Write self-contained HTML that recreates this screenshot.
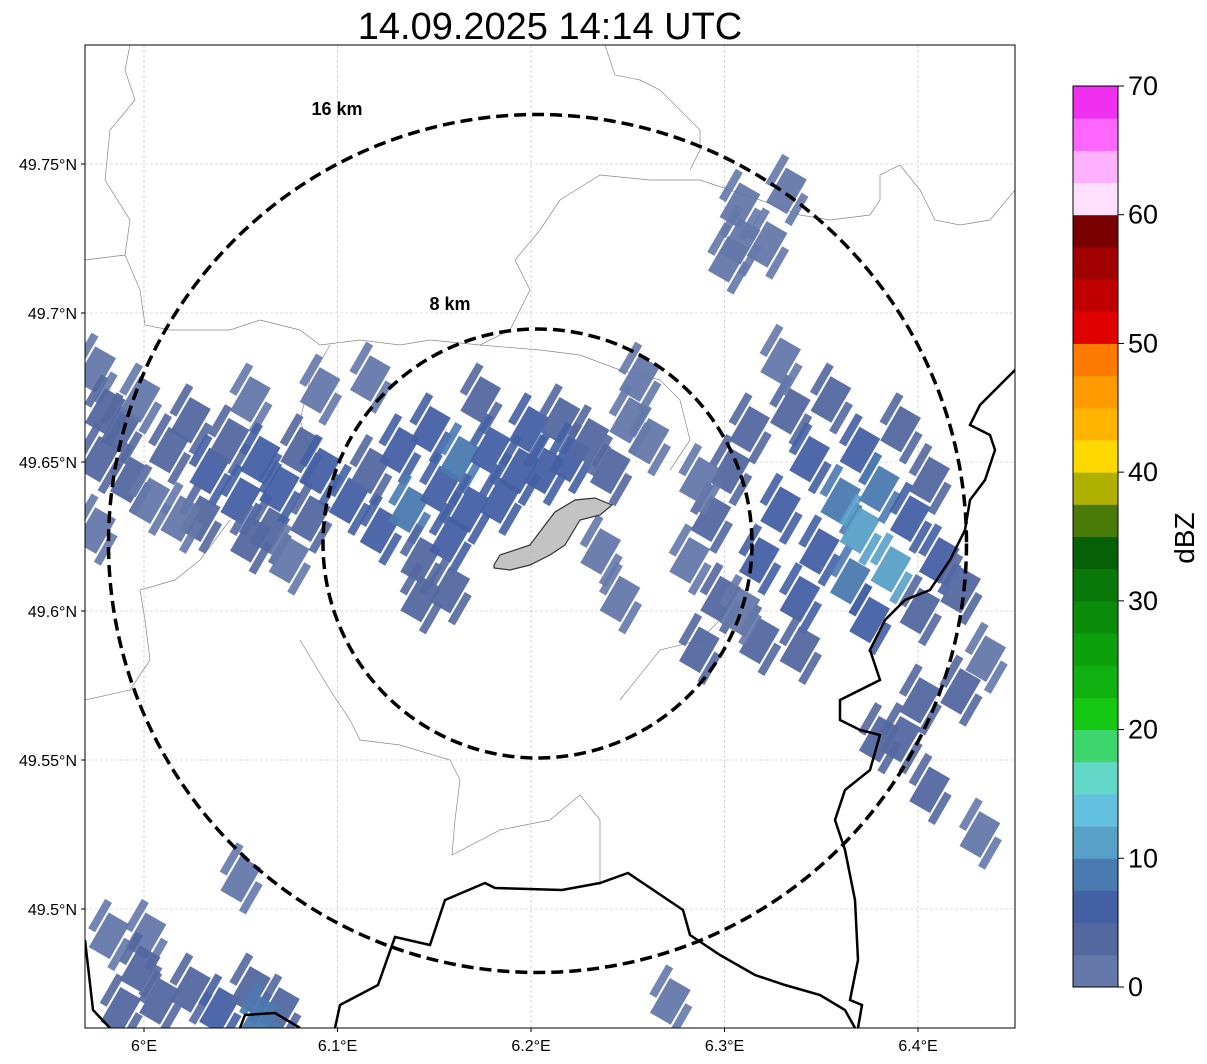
<!DOCTYPE html>
<html><head><meta charset="utf-8"><style>
body{margin:0;background:#fff;width:1207px;height:1064px;overflow:hidden;font-family:"Liberation Sans",sans-serif}
svg{position:absolute;left:0;top:0}
</style></head><body>
<svg id="chart" width="1207" height="1064">
<defs><clipPath id="mapclip"><rect x="85" y="45" width="930" height="983"/></clipPath></defs>
<text x="550" y="39" font-size="38" text-anchor="middle" fill="#000">14.09.2025 14:14 UTC</text>
<g id="grid"></g>
<g id="map" clip-path="url(#mapclip)"></g>
<rect x="85" y="45" width="930" height="983" fill="none" stroke="#000" stroke-width="1"/>
<g id="axes"></g>
<g id="cbar"></g>
<text x="337" y="115" font-size="18" font-weight="bold" text-anchor="middle">16 km</text>
<text x="450" y="310" font-size="18" font-weight="bold" text-anchor="middle">8 km</text>
</svg>
<script>
const lonTicks=[6.0,6.1,6.2,6.3,6.4];
const lonTickLabels=["6°E","6.1°E","6.2°E","6.3°E","6.4°E"];
const latTicks=[49.75,49.7,49.65,49.6,49.55,49.5];
const latTickLabels=["49.75°N","49.7°N","49.65°N","49.6°N","49.55°N","49.5°N"];
const cbarTicks=[0,10,20,30,40,50,60,70];
const cbarColors=["#6478aa","#5468a0","#4460a4","#4a7ab0","#58a0c8","#64c0e0","#64d8c8","#3cd66c","#14c814","#10b010","#0ca00c","#0a8c0a","#087808","#066006","#4a7a08","#b0b000","#ffd800","#ffb400","#ff9a00","#ff7a00","#e00000","#c00000","#a00000","#7a0000","#ffe0ff","#ffb0ff","#ff66ff","#f030f0"];
const echoLon=[5.975,5.980,5.977,5.988,5.998,5.993,6.003,6.013,6.024,6.034,6.029,6.044,6.050,6.055,6.060,6.065,6.070,6.081,6.086,6.091,6.091,6.075,6.055,5.975,6.019,
6.106,6.117,6.122,6.132,6.137,6.143,6.148,6.153,6.158,6.163,6.168,6.174,6.179,6.184,6.194,6.199,6.207,6.215,6.220,6.230,6.241,6.251,6.256,6.261,6.236,6.246,6.158,6.117,6.143,
6.287,6.298,6.293,6.303,6.313,6.318,6.329,6.334,6.339,6.344,6.349,6.355,6.360,6.365,6.370,6.370,6.375,6.380,6.386,6.391,6.396,6.401,6.406,6.411,6.422,6.318,6.308,6.339,6.329,6.287,6.282,
6.308,6.308,6.302,6.322,6.332,
6.391,6.422,6.435,6.406,6.432,6.380,6.401,
5.982,6.001,5.998,6.008,6.024,6.039,6.055,6.070,5.988,6.050,6.272,6.060];
const echoLat=[49.681,49.667,49.651,49.661,49.671,49.644,49.637,49.654,49.664,49.647,49.631,49.657,49.637,49.671,49.651,49.627,49.641,49.654,49.631,49.647,49.674,49.617,49.624,49.627,49.631,
49.637,49.647,49.627,49.654,49.634,49.617,49.661,49.641,49.624,49.651,49.634,49.671,49.654,49.637,49.647,49.661,49.647,49.664,49.651,49.657,49.647,49.664,49.678,49.657,49.620,49.604,49.607,49.678,49.604,
49.587,49.604,49.631,49.647,49.661,49.617,49.634,49.667,49.604,49.651,49.620,49.671,49.637,49.610,49.654,49.627,49.597,49.641,49.614,49.661,49.631,49.600,49.644,49.617,49.607,49.590,49.600,49.587,49.684,49.644,49.617,
49.736,49.724,49.718,49.723,49.741,
49.557,49.573,49.584,49.540,49.525,49.557,49.570,
49.491,49.491,49.480,49.469,49.473,49.466,49.473,49.466,49.466,49.510,49.469,49.463];
const echoDbz=[2,3,4,3,2,3,2,4,3,5,3,4,5,2,5,3,6,4,4,5,2,2,3,2,2,
5,4,6,7,8,4,5,7,5,9,6,3,5,6,6,5,6,3,5,4,4,2,2,2,2,2,3,2,3,
3,3,3,4,4,5,6,4,5,6,7,4,8,9,6,12,6,8,10,4,6,4,4,5,3,3,2,3,2,2,2,
2,2,2,2,2,
4,3,2,3,2,3,3,
2,2,3,4,4,5,4,4,4,2,2,8];

const NS="http://www.w3.org/2000/svg";
const X0=85,X1=1015,Y0=45,Y1=1028;
function xs(lon){return 144+(lon-6.0)*1935;}
function ys(lat){return 164-(lat-49.75)*2980;}
function cbY(v){return 987-(v/70)*901;}
function colorOf(v){return cbarColors[Math.max(0,Math.min(27,Math.floor(v/2.5)))];}
function mk(tag,attrs,parent){const e=document.createElementNS(NS,tag);for(const k in attrs)e.setAttribute(k,attrs[k]);parent.appendChild(e);return e;}
const grid=document.getElementById('grid'),map=document.getElementById('map'),axes=document.getElementById('axes'),cbar=document.getElementById('cbar');

lonTicks.forEach((t,i)=>{const x=xs(t);
 const l=mk('line',{x1:x,x2:x,y1:Y0,y2:Y1,stroke:'#bbb','stroke-width':0.6,'stroke-dasharray':'3,2'},grid);
 
 
 const tk=mk('line',{x1:x,x2:x,y1:Y1,y2:Y1+4,stroke:'#000'},axes);
 
 
 const tx=mk('text',{x:x,y:Y1+23,'font-size':16,'text-anchor':'middle'},axes);tx.textContent=lonTickLabels[i];
 
 });
latTicks.forEach((t,i)=>{const y=ys(t);
 const l=mk('line',{x1:X0,x2:X1,y1:y,y2:y,stroke:'#bbb','stroke-width':0.6,'stroke-dasharray':'3,2'},grid);
 
 
 const tk=mk('line',{x1:X0-4,x2:X0,y1:y,y2:y,stroke:'#000'},axes);
 
 
 const tx=mk('text',{x:77,y:y+6,'font-size':16,'text-anchor':'end'},axes);tx.textContent=latTickLabels[i];
 
 });

const thin=["130,45 125,70 135,100 110,130 105,180 130,220 125,255 85,260","125,255 140,290 145,325 170,330 230,330 260,320 300,330 320,345 360,340 400,345 430,340 480,345 510,330 530,290 515,260 540,230 560,200 600,175 650,180 700,180 760,200 800,215 830,220 870,215 880,200 880,175 900,165 920,190 935,220 960,225 990,220 1015,190","605,45 610,60 615,75 640,80 660,90 680,110 700,130 700,150 690,170","480,345 540,350 580,355 620,370 660,380 680,400 690,440 670,470","85,700 130,690 150,660 145,620 140,590 175,580 200,560 230,520","300,640 330,690 350,720 360,740 400,745 450,760 460,780 455,820 452,855 500,830 550,820 580,795 600,820 600,885","620,700 660,650 700,640 720,620","330,345 310,380 300,420 310,450"];
thin.forEach(p=>{const e=mk('polyline',{points:p,fill:'none',stroke:'#888','stroke-width':0.7},map);
 
 });

echoLon.forEach((lo,i)=>{const x=xs(lo),y=ys(echoLat[i]);const c=colorOf(echoDbz[i]);
 const g=mk('g',{transform:`translate(${x},${y}) rotate(30)`},map);
 
 
 mk('rect',{x:-12,y:-20,width:24,height:40,fill:c,opacity:0.95},g);
 mk('rect',{x:-22,y:-30,width:8,height:34,fill:c,opacity:0.9},g);
 mk('rect',{x:14,y:-6,width:8,height:34,fill:c,opacity:0.9},g);});

const thick=["85,940 93,1010 110,1028","240,1028 245,1015 275,1013 300,1028","335,1028 340,1005 378,985 395,937 430,945 445,900 485,883 495,888 562,890 600,883 628,873 683,910 690,935 720,955 755,975 785,985 820,995 845,1010 855,1028","1015,370 1000,385 980,405 970,425 990,435 995,450 985,480 970,500 965,530 950,560 930,590 905,600 885,620 870,650 880,680 860,690 840,700 840,720 860,730 880,735 870,770 845,790 835,820 845,850 855,900 858,960 850,1000 862,1005 858,1028"];
thick.forEach(p=>{const e=mk('polyline',{points:p,fill:'none',stroke:'#000','stroke-width':2.5},map);
 
 });

const city=mk('polygon',{points:"494,565 500,555 530,545 545,525 555,512 575,500 595,498 612,505 600,515 580,520 565,545 550,555 530,565 510,570 494,568",fill:'#aaa','fill-opacity':0.7,stroke:'#333','stroke-width':1.2},map);



[[214.5,'ring-8km'],[429,'ring-16km']].forEach(([r,n])=>{const c=mk('circle',{cx:537.5,cy:543.5,r:r,fill:'none',stroke:'#000','stroke-width':3.5,'stroke-dasharray':'12,6'},map);
 
 });

cbarColors.forEach((c,i)=>{const v0=i*2.5,v1=v0+2.5;const r=mk('rect',{x:1073,y:cbY(v1),width:45,height:cbY(v0)-cbY(v1)+0.5,fill:c},cbar);
 
 });
mk('rect',{x:1073,y:86,width:45,height:901,fill:'none',stroke:'#000','stroke-width':1},cbar);
cbarTicks.forEach(v=>{const y=cbY(v);mk('line',{x1:1118,x2:1124,y1:y,y2:y,stroke:'#000'},cbar);
 const t=mk('text',{x:1128,y:y+9,'font-size':27},cbar);t.textContent=v;
 
 });
const lab=mk('text',{x:1194,y:538,'font-size':28,'text-anchor':'middle',transform:'rotate(-90 1194 538)'},cbar);lab.textContent='dBZ';


</script>
</body></html>
